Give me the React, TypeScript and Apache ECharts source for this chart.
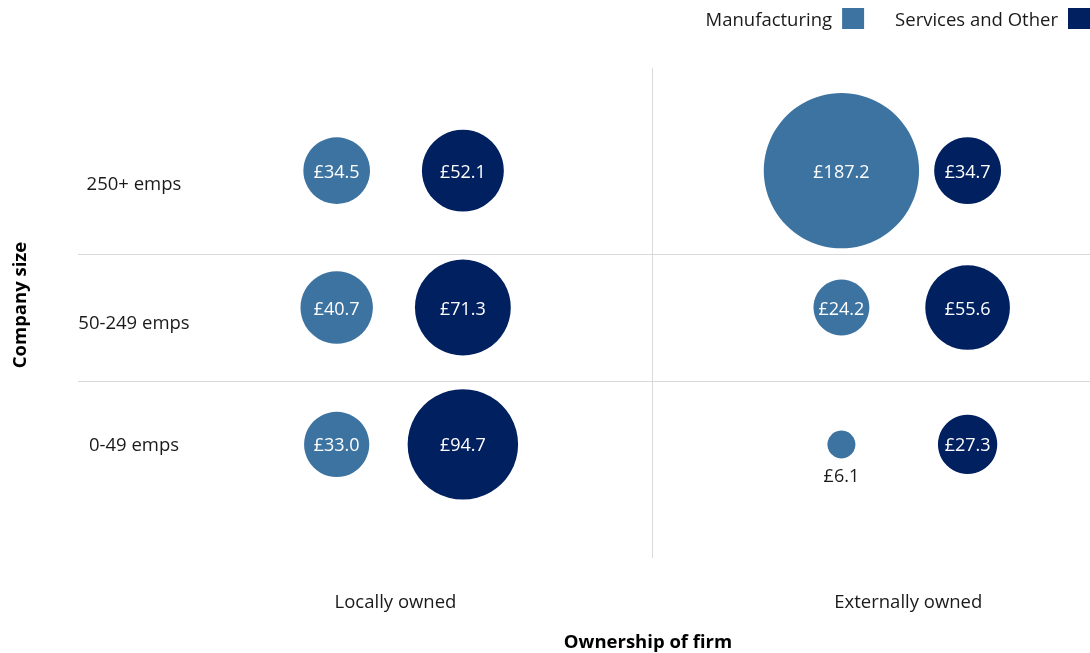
import React, { useEffect, useRef } from "react";
import * as echarts from "echarts";

const ownershipLabels = ["Locally owned", "Externally owned"];
const sizeLabels = ["0-49 emps", "50-249 emps", "250+ emps"];
const seriesNames = ["Manufacturing", "Services and Other"];
// values ordered by company size: 0-49, 50-249, 250+
const manufacturingLocal = [33.0, 40.7, 34.5];
const manufacturingExternal = [6.1, 24.2, 187.2];
const servicesLocal = [94.7, 71.3, 52.1];
const servicesExternal = [27.3, 55.6, 34.7];

const COLORS = ["#3D73A1", "#002060"];
const FONT = "Open Sans";
const FS = 18.5;

function buildPoints(local: number[], external: number[], sector: number) {
  const pts: any[] = [];
  [local, external].forEach((arr, o) => {
    arr.forEach((v, i) => {
      const small = v < 15;
      pts.push({
        value: [o * 4 + sector + 1, i + 1, v],
        label: small
          ? { position: "bottom", color: "#1a1a1a", distance: 8 }
          : undefined,
      });
    });
  });
  return pts;
}

export default function App() {
  const ref = useRef<HTMLDivElement>(null);
  useEffect(() => {
    const chart = echarts.init(ref.current!, null, { renderer: "svg" });
    const bubble = (name: string, data: any[], color: string) => ({
      name,
      type: "scatter",
      data,
      symbolSize: (val: number[]) => 11.35 * Math.sqrt(val[2]),
      itemStyle: { color, opacity: 1 },
      label: {
        show: true,
        position: "inside",
        color: "#ffffff",
        fontFamily: FONT,
        fontSize: 18,
        formatter: (p: any) => "£" + p.value[2].toFixed(1),
      },
      emphasis: { disabled: true },
      z: 3,
    });
    chart.setOption({
      animation: false,
      textStyle: { fontFamily: FONT },
      grid: { left: 78, right: 0, top: 68, bottom: 95, containLabel: false },
      legend: {
        data: seriesNames,
        right: 0,
        top: 8,
        padding: 0,
        align: "right",
        icon: "rect",
        itemWidth: 22,
        itemHeight: 21,
        itemGap: 31,
        textStyle: {
          fontFamily: FONT,
          fontSize: FS,
          color: "#1a1a1a",
          padding: [0, 5, 0, 0],
        },
      },
      xAxis: {
        type: "value",
        min: -1.05,
        max: 6.97,
        axisLine: { show: false },
        axisTick: { show: false },
        splitLine: { show: false },
        axisLabel: {
          customValues: [1.466, 5.53],
          margin: 33,
          fontFamily: FONT,
          fontSize: FS,
          color: "#1a1a1a",
          formatter: (v: number) => ownershipLabels[v < 3.5 ? 0 : 1],
        },
      },
      yAxis: {
        type: "value",
        min: 0.17,
        max: 3.75,
        axisLine: { show: false },
        axisTick: { show: false },
        splitLine: { show: false },
        axisLabel: {
          customValues: [1.01, 1.9, 2.91],
          inside: true,
          align: "center",
          margin: 56,
          fontFamily: FONT,
          fontSize: FS,
          color: "#1a1a1a",
          formatter: (v: number) => sizeLabels[Math.round(v) - 1],
        },
      },
      series: [
        bubble(seriesNames[0], buildPoints(manufacturingLocal, manufacturingExternal, 0), COLORS[0]),
        bubble(seriesNames[1], buildPoints(servicesLocal, servicesExternal, 1), COLORS[1]),
        {
          type: "scatter",
          data: [],
          silent: true,
          z: 1,
          markLine: {
            silent: true,
            symbol: "none",
            label: { show: false },
            lineStyle: { color: "#d9d9d9", width: 1, type: "solid" },
            data: [{ yAxis: 1.46 }, { yAxis: 2.39 }, { xAxis: 3.5 }],
          },
        },
      ],
      graphic: [
        {
          type: "text",
          x: 18,
          y: 305,
          rotation: Math.PI / 2,
          style: {
            text: "Company size",
            fontFamily: FONT,
            fontSize: FS,
            fontWeight: "bold",
            fill: "#000000",
            align: "center",
            verticalAlign: "middle",
          },
        },
        {
          type: "text",
          x: 648,
          y: 640,
          style: {
            text: "Ownership of firm",
            fontFamily: FONT,
            fontSize: FS,
            fontWeight: "bold",
            fill: "#000000",
            align: "center",
            verticalAlign: "middle",
          },
        },
      ],
    });
    return () => chart.dispose();
  }, []);
  return (
    <div
      ref={ref}
      style={{ position: "fixed", left: 0, top: 0, width: 1090, height: 653 }}
    />
  );
}
